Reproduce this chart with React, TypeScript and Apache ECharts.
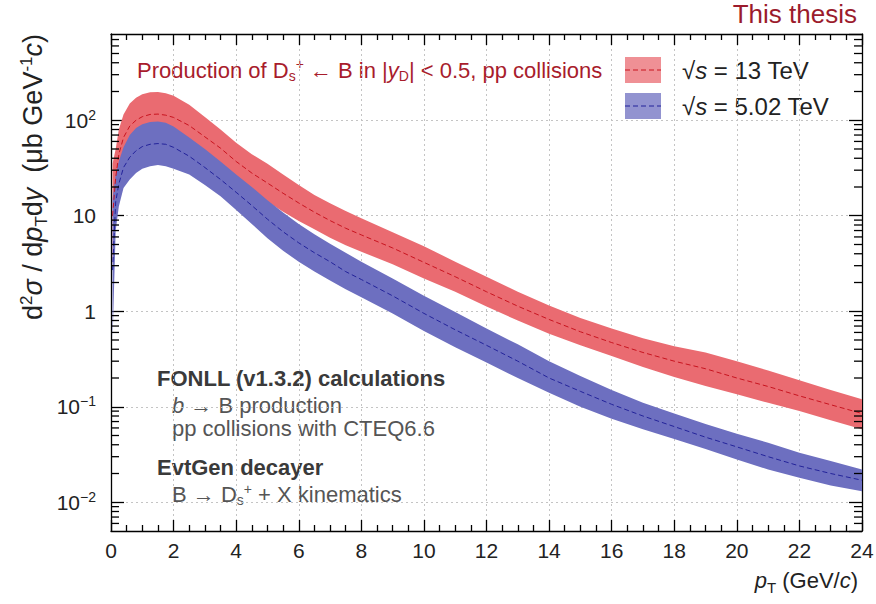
import React, { useEffect, useRef } from 'react';
import * as echarts from 'echarts';

// pT bin centres (GeV/c)
const pT = [0.05, 0.15, 0.25, 0.4, 0.6, 0.8, 1.0, 1.25, 1.5, 1.75, 2.0, 2.5, 3.0, 3.5, 4.0, 4.5, 5.0, 5.5, 6.0, 6.5, 7.0, 7.5, 8.0, 9, 10, 11, 12, 13, 14, 15, 16, 17, 18, 19, 20, 21, 22, 23, 24];

// sqrt(s) = 13 TeV band (µb GeV^-1 c)
const upper13 = [35, 50, 80, 115, 150, 172, 187, 196, 198, 192, 180, 145, 108, 80, 58, 44, 35, 27, 21, 16.5, 13.5, 11.2, 9.4, 6.7, 4.8, 3.3, 2.3, 1.6, 1.15, 0.85, 0.66, 0.52, 0.43, 0.37, 0.3, 0.24, 0.19, 0.15, 0.12];
const lower13 = [3, 12, 24, 38, 50, 58, 64, 67, 68, 67, 64, 53, 42, 32, 24, 18, 14, 11, 8.8, 7.2, 5.9, 4.9, 4.2, 3.1, 2.2, 1.6, 1.12, 0.8, 0.58, 0.44, 0.34, 0.26, 0.205, 0.165, 0.135, 0.11, 0.09, 0.072, 0.058];
const central13 = [10, 25, 44, 66, 87, 100, 109, 115, 116, 113, 107, 88, 67, 51, 37, 28, 22, 17.2, 13.6, 10.9, 8.9, 7.4, 6.3, 4.6, 3.25, 2.3, 1.6, 1.13, 0.82, 0.61, 0.47, 0.37, 0.3, 0.25, 0.2, 0.163, 0.13, 0.105, 0.085];

// sqrt(s) = 5.02 TeV band
const upper502 = [15, 27, 37, 52, 70, 83, 91, 96, 97, 94, 86, 66, 50, 37, 27, 20, 14.5, 10.8, 8.2, 6.4, 5.1, 4.1, 3.3, 2.2, 1.45, 0.98, 0.66, 0.45, 0.3, 0.21, 0.15, 0.11, 0.085, 0.066, 0.052, 0.042, 0.033, 0.027, 0.022];
const lower502 = [0.5, 7, 12.5, 19.5, 24, 28, 31, 33, 34, 33, 31, 27, 21, 16, 11.5, 8.2, 5.8, 4.3, 3.3, 2.6, 2.1, 1.7, 1.4, 0.95, 0.62, 0.42, 0.29, 0.2, 0.14, 0.1, 0.075, 0.058, 0.046, 0.036, 0.028, 0.022, 0.018, 0.015, 0.013];
const central502 = [2.7, 14, 21.5, 32, 41, 48, 53, 56, 57, 56, 52, 42, 32, 24, 17.6, 12.8, 9.2, 6.8, 5.2, 4.1, 3.3, 2.6, 2.15, 1.45, 0.95, 0.64, 0.44, 0.3, 0.2, 0.145, 0.106, 0.08, 0.062, 0.048, 0.038, 0.03, 0.024, 0.02, 0.017];

const yTickValues = [0.01, 0.1, 1, 10, 100];
const yTickLabels = ['10{sup|−2}', '10{sup|−1}', '1', '10', '10{sup|2}'];
const legendLabels = ['√{it|s} = 13 TeV', '√{it|s} = 5.02 TeV'];

const FONT = '"Liberation Sans", Arial, Helvetica, sans-serif';
const RED_FILL = '#ea6b71';
const RED_LINE = '#c8141f';
const BLUE_FILL = '#6d6fc0';
const BLUE_LINE = '#23239a';

const X_MIN = 0, X_MAX = 24, Y_MIN = 0.005, Y_MAX = 800;

function minorLogTicks(): number[] {
  const out: number[] = [];
  for (let k = -3; k <= 2; k++) {
    for (let m = 2; m <= 9; m++) {
      const v = m * Math.pow(10, k);
      if (v > Y_MIN && v < Y_MAX) out.push(v);
    }
  }
  return out;
}

// band drawn as one polygon through the axes' own coordinate mapping
function band(name: string, lower: number[], upper: number[], fill: string) {
  const data = pT.map((x, i) => [x, lower[i], upper[i]]);
  return {
    name, type: 'custom', silent: true, clip: true,
    dimensions: ['x', 'lo', 'hi'],
    encode: { x: 0, y: [1, 2] },
    data,
    renderItem: (params: any, api: any) => {
      if (params.dataIndex !== 0) return null;
      const top: number[][] = [];
      const bot: number[][] = [];
      for (let i = 0; i < data.length; i++) {
        top.push(api.coord([data[i][0], data[i][2]]));
        bot.push(api.coord([data[i][0], data[i][1]]));
      }
      const pts = top.concat(bot.reverse());
      return { type: 'polygon', shape: { points: pts }, style: { fill, stroke: 'none' } };
    },
  };
}

export default function App() {
  const ref = useRef<HTMLDivElement>(null);
  useEffect(() => {
    if (!ref.current) return;
    const chart = echarts.init(ref.current, undefined, { renderer: 'svg' });
    const supRich = { sup: { fontSize: 14, padding: [0, 0, 11, 0], fontFamily: FONT, color: '#222' } };
    const axisLineStyle = { color: '#000', width: 1.3 };
    const tickStyle = { color: '#000', width: 1.3 };

    const graphics: any[] = [
      {
        type: 'text', x: 857, y: 14,
        style: { text: 'This thesis', fontSize: 26, fontFamily: FONT, fill: '#9b1b2c', align: 'right', verticalAlign: 'middle' },
      },
      {
        type: 'text', x: 137, y: 70,
        style: {
          text: 'Production of D{sub|s}{sup|+} ← B in |{it|y}{sub|D}| < 0.5, pp collisions',
          fontSize: 22, fontFamily: FONT, fill: '#a81c2c', align: 'left', verticalAlign: 'middle',
          rich: {
            sub: { fontSize: 14, padding: [12, 0, 0, 0], fill: '#a81c2c', fontFamily: FONT },
            sup: { fontSize: 14, padding: [0, 0, 12, 0], fill: '#a81c2c', fontFamily: FONT },
            it: { fontSize: 22, fontStyle: 'italic', fill: '#a81c2c', fontFamily: FONT },
          },
        },
      },
      // legend swatches
      { type: 'rect', shape: { x: 625, y: 57, width: 36, height: 26 }, style: { fill: RED_FILL, opacity: 0.75 } },
      { type: 'line', shape: { x1: 625, y1: 70, x2: 661, y2: 70 }, style: { stroke: RED_LINE, lineWidth: 1, lineDash: [5, 3] } },
      { type: 'rect', shape: { x: 625, y: 93, width: 36, height: 26 }, style: { fill: BLUE_FILL, opacity: 0.75 } },
      { type: 'line', shape: { x1: 625, y1: 106, x2: 661, y2: 106 }, style: { stroke: BLUE_LINE, lineWidth: 1, lineDash: [5, 3] } },
      ...legendLabels.map((t, i) => ({
        type: 'text', x: 682, y: 70 + i * 36,
        style: {
          text: t, fontSize: 24, fontFamily: FONT, fill: '#222', align: 'left', verticalAlign: 'middle',
          rich: { it: { fontSize: 24, fontStyle: 'italic', fill: '#222', fontFamily: FONT } },
        },
      })),
      // calculation notes
      {
        type: 'text', x: 157, y: 378,
        style: { text: 'FONLL (v1.3.2) calculations', fontSize: 22, fontWeight: 'bold', fontFamily: FONT, fill: '#3a3a3a', verticalAlign: 'middle' },
      },
      {
        type: 'text', x: 172, y: 405,
        style: {
          text: '{it|b} → B production', fontSize: 22, fontFamily: FONT, fill: '#555', verticalAlign: 'middle',
          rich: { it: { fontSize: 22, fontStyle: 'italic', fill: '#555', fontFamily: FONT } },
        },
      },
      {
        type: 'text', x: 172, y: 428,
        style: { text: 'pp collisions with CTEQ6.6', fontSize: 22, fontFamily: FONT, fill: '#555', verticalAlign: 'middle' },
      },
      {
        type: 'text', x: 157, y: 467,
        style: { text: 'EvtGen decayer', fontSize: 22, fontWeight: 'bold', fontFamily: FONT, fill: '#3a3a3a', verticalAlign: 'middle' },
      },
      {
        type: 'text', x: 172, y: 494,
        style: {
          text: 'B → D{sub|s}{sup|+} + X kinematics', fontSize: 22, fontFamily: FONT, fill: '#555', verticalAlign: 'middle',
          rich: {
            sub: { fontSize: 14, padding: [11, 0, 0, 0], fill: '#555', fontFamily: FONT },
            sup: { fontSize: 14, padding: [0, 0, 11, 0], fill: '#555', fontFamily: FONT },
          },
        },
      },
      // axis titles
      {
        type: 'text', x: 858, y: 580,
        style: {
          text: '{it|p}{sub|T} (GeV/{it|c})', fontSize: 22, fontFamily: FONT, fill: '#222', align: 'right', verticalAlign: 'middle',
          rich: {
            it: { fontSize: 22, fontStyle: 'italic', fill: '#222', fontFamily: FONT },
            sub: { fontSize: 15, padding: [14, 0, 0, 0], fill: '#222', fontFamily: FONT },
          },
        },
      },
      {
        type: 'text', x: 33, y: 34, rotation: Math.PI / 2,
        style: {
          text: 'd{sup|2}{it|σ} / d{it|p}{sub|T}d{it|y}  (μb GeV{sup|-1}{it|c})', fontSize: 27, fontFamily: FONT, fill: '#222',
          align: 'right', verticalAlign: 'middle',
          rich: {
            it: { fontSize: 27, fontStyle: 'italic', fill: '#222', fontFamily: FONT },
            sup: { fontSize: 17, padding: [0, 0, 14, 0], fill: '#222', fontFamily: FONT },
            sub: { fontSize: 17, padding: [16, 0, 0, 0], fill: '#222', fontFamily: FONT },
          },
        },
      },
    ];

    const option: any = {
      animation: false,
      backgroundColor: '#fff',
      grid: { left: 111, right: 14, top: 34, bottom: 73, containLabel: false, outerBoundsMode: 'none' },
      xAxis: [
        {
          type: 'value', min: X_MIN, max: X_MAX, interval: 2, position: 'bottom',
          axisLine: { show: true, onZero: false, lineStyle: axisLineStyle },
          axisTick: { show: true, inside: true, length: 11, lineStyle: tickStyle },
          minorTick: { show: true, splitNumber: 4, length: 6, lineStyle: tickStyle },
          axisLabel: { fontSize: 21, color: '#222', fontFamily: FONT, margin: 9 },
          splitLine: { show: true, lineStyle: { color: '#c4c4c4', type: [2, 3], width: 1 } },
        },
        {
          type: 'value', min: X_MIN, max: X_MAX, interval: 2, position: 'top',
          axisLine: { show: true, onZero: false, lineStyle: axisLineStyle },
          axisTick: { show: true, inside: true, length: 11, lineStyle: tickStyle },
          minorTick: { show: true, splitNumber: 4, length: 6, lineStyle: tickStyle },
          axisLabel: { show: false },
          splitLine: { show: false },
        },
      ],
      yAxis: [
        {
          type: 'log', logBase: 10, min: Y_MIN, max: Y_MAX, position: 'left',
          axisLine: { show: true, onZero: false, lineStyle: axisLineStyle },
          axisTick: { show: true, inside: true, length: 13, lineStyle: tickStyle },
          axisLabel: {
            fontSize: 21, color: '#222', fontFamily: FONT, margin: 15,
            showMinLabel: false, showMaxLabel: false,
            formatter: (v: number) => {
              const i = yTickValues.findIndex((t) => Math.abs(Math.log10(v) - Math.log10(t)) < 1e-6);
              return i >= 0 ? yTickLabels[i] : '';
            },
            rich: supRich,
          },
          splitLine: { show: true, lineStyle: { color: '#c4c4c4', type: [2, 3], width: 1 } },
        },
        {
          type: 'log', logBase: 10, min: Y_MIN, max: Y_MAX, position: 'right',
          axisLine: { show: true, onZero: false, lineStyle: axisLineStyle },
          axisTick: { show: true, inside: true, length: 13, lineStyle: tickStyle },
          axisLabel: { show: false },
          splitLine: { show: false },
        },
      ],
      series: [
        band('13 TeV', lower13, upper13, RED_FILL),
        {
          name: '13 TeV central', type: 'line', silent: true, symbol: 'none',
          data: pT.map((x, i) => [x, central13[i]]),
          lineStyle: { color: RED_LINE, width: 1, type: [5, 3] },
        },
        band('5.02 TeV', lower502, upper502, BLUE_FILL),
        {
          name: '5.02 TeV central', type: 'line', silent: true, symbol: 'none',
          data: pT.map((x, i) => [x, central502[i]]),
          lineStyle: { color: BLUE_LINE, width: 1, type: [5, 3] },
        },
      ],
      graphic: graphics,
    };
    chart.setOption(option);

    // log-scale minor ticks on the left and right frame, placed through the axis mapping
    const tickEls: any[] = [];
    minorLogTicks().forEach((v) => {
      const l = chart.convertToPixel({ xAxisIndex: 0, yAxisIndex: 0 }, [X_MIN, v]) as number[];
      const r = chart.convertToPixel({ xAxisIndex: 0, yAxisIndex: 0 }, [X_MAX, v]) as number[];
      if (!l || !r) return;
      tickEls.push({ type: 'line', z: 50, silent: true, shape: { x1: l[0], y1: l[1], x2: l[0] + 8, y2: l[1] }, style: { stroke: '#000', lineWidth: 1.3 } });
      tickEls.push({ type: 'line', z: 50, silent: true, shape: { x1: r[0], y1: r[1], x2: r[0] - 8, y2: r[1] }, style: { stroke: '#000', lineWidth: 1.3 } });
    });
    chart.setOption({ graphic: graphics.concat(tickEls) });

    return () => chart.dispose();
  }, []);
  return <div ref={ref} style={{ position: 'fixed', left: 0, top: 0, width: 876, height: 604 }} />;
}
